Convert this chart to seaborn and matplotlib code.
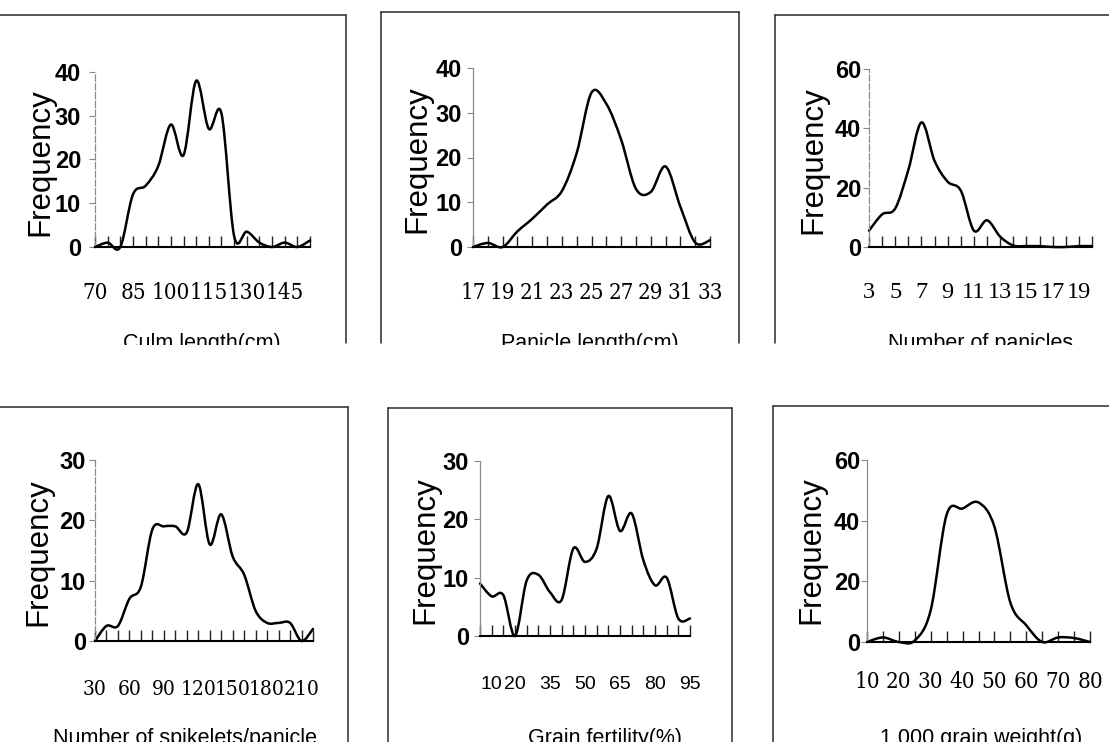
import numpy as np
import pandas as pd
import matplotlib
matplotlib.use("Agg")
import matplotlib.pyplot as plt
import seaborn as sns
from matplotlib.path import Path
from matplotlib.patches import PathPatch
from matplotlib.lines import Line2D
from matplotlib.transforms import Bbox, TransformedBbox
from matplotlib import font_manager as fm

# ---------------- data ----------------
culm_length = [70, 75, 80, 85, 90, 95, 100, 105, 110, 115, 120, 125, 130, 135, 140, 145, 150, 155]
culm_freq = [0, 1, 0, 12, 14, 18.5, 28, 21, 38, 27, 30.5, 2.5, 3.5, 1, 0, 1, 0, 1.5]
culm_ticklabels = [70, 85, 100, 115, 130, 145]

panicle_length = [17, 18, 19, 20, 21, 22, 23, 24, 25, 26, 27, 28, 29, 30, 31, 32, 33]
panicle_freq = [0, 0.9, 0, 3.5, 6.3, 9.5, 12.5, 21, 34.5, 32, 24, 13, 12.3, 18, 9, 1, 1.5]
panicle_ticklabels = [17, 19, 21, 23, 25, 27, 29, 31, 33]

n_panicles = [3, 4, 5, 6, 7, 8, 9, 10, 11, 12, 13, 14, 15, 16, 17, 18, 19, 20]
n_panicles_freq = [5.5, 11, 13, 26, 42, 29, 22, 19, 5.5, 9, 3.5, 0.5, 0.3, 0.3, 0, 0, 0.3, 0.3]
n_panicles_ticklabels = [3, 5, 7, 9, 11, 13, 15, 17, 19]

spikelets = [30, 40, 50, 60, 70, 80, 90, 100, 110, 120, 130, 140, 150, 160, 170, 180, 190, 200, 210, 220]
spikelets_freq = [0, 2.5, 2.5, 7, 9, 18.5, 19, 19, 18, 26, 16, 21, 14, 11, 5, 3, 3, 3, 0, 2]
spikelets_ticklabels = [30, 60, 90, 120, 150, 180, 210]

fertility = [5, 10, 15, 20, 25, 30, 35, 40, 45, 50, 55, 60, 65, 70, 75, 80, 85, 90, 95]
fertility_freq = [9, 6.8, 7, 0, 9.5, 10.5, 7.5, 6.2, 15, 12.7, 15, 24, 18, 21, 13, 8.7, 10, 3, 3]
fertility_ticklabels = [10, 20, 35, 50, 65, 80, 95]

grain_weight = [10, 15, 20, 25, 30, 35, 40, 45, 50, 55, 60, 65, 70, 75, 80]
grain_weight_freq = [0, 1.5, 0, 0.5, 10.5, 42, 44, 46, 38, 13, 5.5, 0, 1.5, 1.3, 0]
grain_weight_ticklabels = [10, 20, 30, 40, 50, 60, 70, 80]

xlabels = ["Culm length(cm)", "Panicle length(cm)", "Number of panicles",
           "Number of spikelets/panicle", "Grain fertility(%)", "1 000 grain weight(g)"]
ylabel = "Frequency"

# ---------------- style ----------------
sns.set_theme(style="white")
plt.rcParams["font.family"] = ["Liberation Sans", "DejaVu Sans"]

W, H = 1109, 742
fig = plt.figure(figsize=(W / 100, H / 100), dpi=100)
fig.patch.set_facecolor("white")

# condensed upright serif font for x tick labels if available
cond_file = None
for f in fm.fontManager.ttflist:
    if f.stretch in ("condensed", "semi-condensed", "extra-condensed", "ultra-condensed") \
            and ("Serif" in f.name or "Times" in f.name) \
            and f.style == "normal" and f.weight in (400, "normal", "regular", "book"):
        cond_file = f.fname
        break
if cond_file:
    serif_tick = fm.FontProperties(fname=cond_file, size=16)
    serif_tick4 = fm.FontProperties(fname=cond_file, size=15)
else:
    serif_tick = fm.FontProperties(family="Liberation Serif", size=15)
    serif_tick4 = fm.FontProperties(family="Liberation Serif", size=14)
serif_tick3 = fm.FontProperties(family="Liberation Serif", size=17.5)
sans_tick5 = fm.FontProperties(family="Liberation Sans", size=14)
ytick_font = fm.FontProperties(family="Liberation Sans", weight="bold", size=17)


def fx(px):
    return px / W


def fy(py):
    return 1 - py / H


def smooth_path(xy):
    pts = np.asarray(xy, dtype=float)
    n = len(pts)
    verts = [pts[0]]
    codes = [Path.MOVETO]
    for i in range(n - 1):
        p0 = pts[i - 1] if i > 0 else pts[i]
        p1 = pts[i]
        p2 = pts[i + 1]
        p3 = pts[i + 2] if i + 2 < n else pts[i + 1]
        c1 = p1 + (p2 - p0) / 6.0
        c2 = p2 - (p3 - p1) / 6.0
        verts += [c1, c2, p2]
        codes += [Path.CURVE4] * 3
    return Path(verts, codes)


panels = [
    dict(x=culm_length, y=culm_freq, tl=culm_ticklabels, ymax=40, ystep=10,
         box=(95, 310, 72, 247), tf=serif_tick, xpad=25, ypad=6, yl=(40, 162), xl=(202, 333)),
    dict(x=panicle_length, y=panicle_freq, tl=panicle_ticklabels, ymax=40, ystep=10,
         box=(473, 710, 68, 247), tf=serif_tick, xpad=25, ypad=4, yl=(417, 159), xl=(590, 333)),
    dict(x=n_panicles, y=n_panicles_freq, tl=n_panicles_ticklabels, ymax=60, ystep=20,
         box=(869, 1092, 69, 247), tf=serif_tick3, xpad=25, ypad=1.5, yl=(813, 160), xl=(981, 333)),
    dict(x=spikelets, y=spikelets_freq, tl=spikelets_ticklabels, ymax=30, ystep=10,
         box=(95, 313, 460, 641), tf=serif_tick4, xpad=28, ypad=2.5, yl=(38, 552), xl=(185, 728)),
    dict(x=fertility, y=fertility_freq, tl=fertility_ticklabels, ymax=30, ystep=10,
         box=(480, 690, 461, 636), tf=sans_tick5, xpad=29, ypad=4, yl=(425, 550), xl=(605, 728)),
    dict(x=grain_weight, y=grain_weight_freq, tl=grain_weight_ticklabels, ymax=60, ystep=20,
         box=(867, 1090, 460, 642), tf=serif_tick, xpad=21, ypad=1, yl=(811, 550), xl=(981, 728)),
]

for k, p in enumerate(panels):
    l, r, t, b = p["box"]
    ax = fig.add_axes([fx(l), fy(b), (r - l) / W, (b - t) / H])
    ax.set_facecolor("none")
    df = pd.DataFrame({"x": p["x"], "y": p["y"]})
    sns.lineplot(data=df, x="x", y="y", ax=ax, color="black", linewidth=1.8)
    line = ax.lines[-1]
    xy = line.get_xydata()
    line.remove()
    ax.add_patch(PathPatch(smooth_path(xy), facecolor="none", edgecolor="black",
                           linewidth=1.8, transform=ax.transData, clip_on=False,
                           capstyle="round", joinstyle="round"))
    ax.set_xlim(p["x"][0], p["x"][-1])
    ax.set_ylim(0, p["ymax"])
    ax.set_xlabel("")
    ax.set_ylabel("")

    ax.set_xticks(p["x"])
    ax.set_xticklabels([str(v) if v in p["tl"] else "" for v in p["x"]])
    for lab in ax.get_xticklabels():
        lab.set_fontproperties(p["tf"])
        lab.set_color("black")
    ax.tick_params(axis="x", direction="in", length=8, width=1.0, color="#222222",
                   pad=p["xpad"], bottom=True)

    yt = list(range(0, p["ymax"] + 1, p["ystep"]))
    ax.set_yticks(yt)
    ax.set_yticklabels([str(v) for v in yt])
    for lab in ax.get_yticklabels():
        lab.set_fontproperties(ytick_font)
        lab.set_color("black")
    ax.tick_params(axis="y", direction="out", length=4, width=0.8, color="#888888",
                   pad=p["ypad"], left=True)

    for s in ("top", "right"):
        ax.spines[s].set_visible(False)
    ax.spines["bottom"].set_color("black")
    ax.spines["bottom"].set_linewidth(1.5)
    ax.spines["left"].set_color("#8a8a8a")
    ax.spines["left"].set_linewidth(0.9)
    if k in (0, 2, 3):
        ax.spines["left"].set_linestyle((0, (5, 2)))
    ax.grid(False)

    fig.text(fx(p["yl"][0]), fy(p["yl"][1]), ylabel, rotation=90, ha="center", va="center",
             fontsize=22.5, color="black")
    # x label, cut by the edge of the scanned frame (as in the reference)
    txt = fig.text(fx(p["xl"][0]), fy(p["xl"][1]), xlabels[k], ha="center", va="top",
                   fontsize=15.5, color="black")
    if k < 3:
        cb = TransformedBbox(Bbox([[0, fy(345)], [1, 1]]), fig.transFigure)
        txt.set_clip_box(cb)
        txt.set_clip_on(True)

# ---------------- frames of the scanned panels ----------------
fc = "#2a2a2a"
flw = 1.1
frames = [
    ((0, 346), (15, 15)), ((346, 346), (15, 343)),
    ((381, 381), (12, 343)), ((381, 739), (12, 12)), ((739, 739), (12, 343)),
    ((775, 775), (15, 343)), ((775, 1109), (15, 15)),
    ((0, 348), (407, 407)), ((348, 348), (407, 742)),
    ((388, 388), (408, 742)), ((388, 732), (408, 408)), ((732, 732), (408, 742)),
    ((773, 773), (406, 742)), ((773, 1109), (406, 406)),
]
for (x0, x1), (y0, y1) in frames:
    fig.add_artist(Line2D([fx(x0), fx(x1)], [fy(y0), fy(y1)], transform=fig.transFigure,
                          color=fc, linewidth=flw))

fig.savefig("out.png", dpi=100, facecolor="white")
